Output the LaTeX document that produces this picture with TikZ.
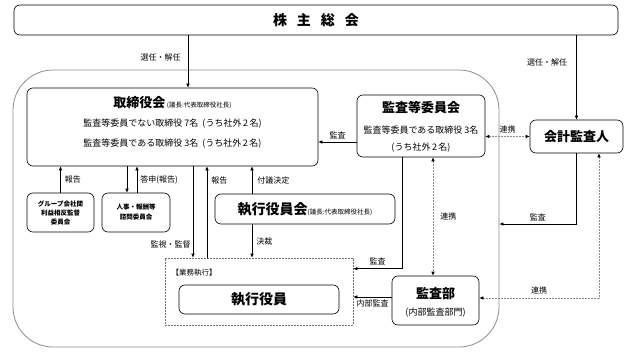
\documentclass[tikz,border=0pt]{standalone}
\usepackage{fontspec}
\setmainfont{Noto Sans CJK JP}
\usetikzlibrary{arrows.meta, positioning}

\newcommand{\headsz}{\fontsize{13}{15}\selectfont\bfseries}
\newcommand{\bigsz}{\fontsize{14}{16}\selectfont\bfseries}
\newcommand{\bodysz}{\fontsize{8}{10}\selectfont}
\newcommand{\linesz}{\fontsize{9}{11}\selectfont}
\newcommand{\notesz}{\fontsize{6.5}{8}\selectfont}

\begin{document}
\begin{tikzpicture}[x=1pt, y=-1pt,
    box/.style={draw, rounded corners=6pt, line width=0.6pt, inner sep=0pt},
    arr/.style={-{Latex[length=4pt,width=3.5pt]}, line width=0.6pt},
    darr/.style={{Latex[length=4pt,width=3.5pt,color=black]}-{Latex[length=4pt,width=3.5pt,color=black]},
      draw=black!45, dash pattern=on 2pt off 1pt, line width=0.6pt},
    lbl/.style={font=\bodysz, inner sep=1pt}]
  \useasboundingbox (0,0) rectangle (635,353);

  % outer frame
  \node[draw=black!45, line width=0.8pt, rounded corners=40pt, minimum width=486pt, minimum height=277pt] (frame) at (256,208.5) {};

  \node[box, minimum width=604pt, minimum height=30pt, font=\bigsz] (gm) at (316,20) {株\hspace{10pt}主\hspace{10pt}総\hspace{10pt}会};

  % board
  \node[box, minimum width=291pt, minimum height=78pt] (tb) at (172.5,127) {};
  \node (tbh) at (172.5,103) {{\headsz 取締役会}\,{\notesz (議長:代表取締役社長)}};
  \node[font=\linesz] (tb1) at (172.5,124) {監査等委員でない取締役\ 7名\ \ (うち社外\,2\,名)};
  \node[font=\linesz] (tb2) at (172.5,144) {監査等委員である取締役\ 3名\ \ (うち社外\,2\,名)};

  % audit committee
  \node[box, minimum width=128pt, minimum height=62pt] (ac) at (421,126) {};
  \node[font=\headsz] (ach) at (421,108) {監査等委員会};
  \node[font=\linesz] (ac1) at (421,130) {監査等委員である取締役\ 3名};
  \node[font=\linesz] (ac2) at (421,148) {(うち社外\,2\,名)};

  \node[box, minimum width=93pt, minimum height=33pt, font=\headsz] (kai) at (576.5,136.5) {会計監査人};

  \node[box, minimum width=67pt, minimum height=39pt, align=center, font=\fontsize{6.5}{9}\selectfont\bfseries] (grp) at (60.5,212.5) {グループ会社間\\利益相反監督\\委員会};
  \node[box, minimum width=68pt, minimum height=39pt, align=center, font=\fontsize{6.5}{10}\selectfont\bfseries] (hr) at (136,212.5) {人事・報酬等\\諮問委員会};

  \node[box, minimum width=180pt, minimum height=30pt] (eb) at (305,209) {{\bigsz 執行役員会}{\notesz (議長:代表取締役社長)}};

  % execution
  \node[draw=black!55, dash pattern=on 2pt off 1pt, line width=0.6pt, minimum width=188pt, minimum height=67pt] (ex) at (259,291.5) {};
  \node[font=\fontsize{7.5}{9}\selectfont, anchor=west] (exh) at (168,273) {【業務執行】};
  \node[box, minimum width=160pt, minimum height=29pt, font=\bigsz] (eo) at (259,299.5) {執行役員};

  \node[box, minimum width=87pt, minimum height=49pt] (ad) at (435.5,300.5) {};
  \node[font=\headsz] (adh) at (435.5,294) {監査部};
  \node[font=\linesz] (ad1) at (435.5,313) {(内部監査部門)};

  % connectors
  \draw[arr] ([xshift=15.5pt]tb.north |- gm.south) -- node[lbl, left=6pt, pos=0.43]{選任・解任} ([xshift=15.5pt]tb.north);
  \draw[arr] (kai.north |- gm.south) -- node[lbl, left=8pt, pos=0.32]{選任・解任} (kai.north);
  \draw[arr] ([yshift=-16pt]ac.west) -- node[lbl, above=2pt]{監査} ([yshift=-16pt]ac.west -| tb.east);
  \draw[darr] (ac.east |- kai.west) -- node[lbl, above=2pt]{連携} (kai.west);

  \draw[arr] (grp.north) -- node[lbl, right=3pt]{報告} (grp.north |- tb.south);
  \draw[arr] ([xshift=-9pt]hr.north |- tb.south) -- ([xshift=-9pt]hr.north);
  \draw[arr] ([xshift=1pt]hr.north) -- node[lbl, right=2pt]{答申(報告)} ([xshift=1pt]hr.north |- tb.south);
  \draw[arr] ([xshift=-66pt]ex.north |- tb.south) -- node[lbl, left=1pt, pos=0.86]{監視・監督} ([xshift=-66pt]ex.north);
  \draw[arr] ([xshift=-52pt]ex.north) -- node[lbl, right=3pt, pos=0.84]{報告} ([xshift=-52pt]ex.north |- tb.south);
  \draw[arr] ([xshift=-53pt]eb.north) -- node[lbl, right=4pt]{付議決定} ([xshift=-53pt]eb.north |- tb.south);
  \draw[arr] ([xshift=-53pt]eb.south) -- node[lbl, right=3pt]{決裁} ([xshift=-53pt]eb.south |- ex.north);

  \draw[arr] ([xshift=-19pt]ac.south) |- node[lbl, above=2pt, pos=0.75]{監査} ([yshift=-11pt]ex.north east);
  \draw[darr] ([xshift=-2.5pt]ad.north |- ac.south) -- node[lbl, right=6pt]{連携} ([xshift=-2.5pt]ad.north);
  \draw[arr] ([yshift=3.5pt]ad.west) -- node[lbl, below=1pt]{内部監査} ([yshift=3.5pt]ad.west -| ex.east);

  \draw[arr] (kai.south) |- node[lbl, above=2pt, pos=0.75]{監査} ([yshift=-15.5pt]frame.east);
  \draw[darr] ([xshift=22.5pt]kai.south) |- node[lbl, above=3pt, pos=0.75]{連携} ([yshift=2.5pt]ad.east);
\end{tikzpicture}
\end{document}
